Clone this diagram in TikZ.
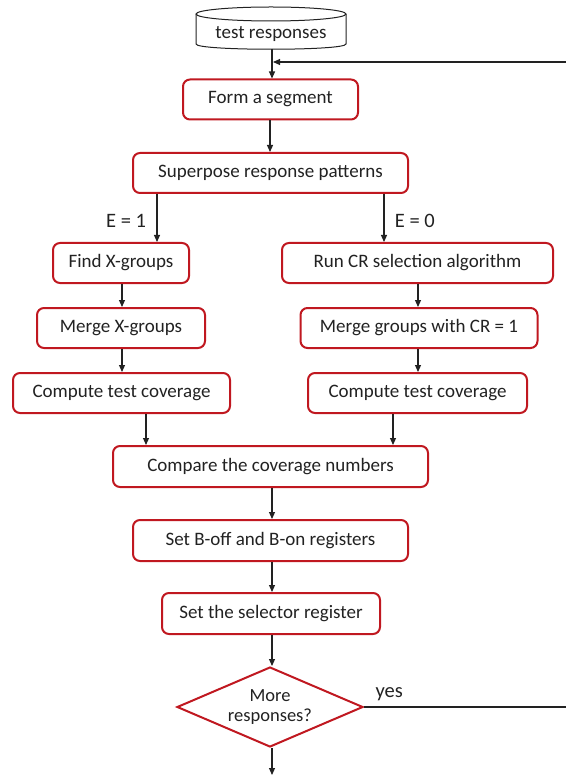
\documentclass[tikz,border=0pt]{standalone}
\usepackage{fontspec}
\setmainfont{Carlito}
\usetikzlibrary{arrows.meta,shapes.geometric}
\definecolor{boxred}{RGB}{192,24,32}
\definecolor{ink}{RGB}{34,34,34}
\begin{document}
\begin{tikzpicture}[x=1pt,y=-1pt,
  every node/.style={font=\fontsize{19}{22}\selectfont, text=ink},
  stepbox/.style={draw=boxred, line width=2pt, rounded corners=7pt, fill=white,
    minimum height=40pt, inner sep=0pt, anchor=center},
  decision/.style={diamond, draw=boxred, line width=2pt, fill=white, aspect=2.325,
    minimum width=186pt, minimum height=80pt, inner sep=0pt, align=center,
    font=\fontsize{18.5}{19.5}\selectfont},
  edgelabel/.style={font=\fontsize{20.5}{22}\selectfont},
  arr/.style={draw=ink, line width=1.1pt, -{Triangle[length=7pt,width=6pt]}},
  lin/.style={draw=ink, line width=1.1pt}
]
\useasboundingbox (0,0) rectangle (565,775);

% storage cylinder holding the test responses
\draw[ink, line width=1pt, fill=white]
  (196,14) -- (196,44) .. controls (196,51) and (346,51) .. (346,44) -- (346,14);
\draw[ink, line width=1pt, fill=white] (271,14) ellipse [x radius=75, y radius=7];
\node (tr) at (271,34) {test responses};
\coordinate (trb) at (272,49);

% process steps
\node[stepbox, minimum width=175pt] (seg) at (270.5,99.5) {Form a segment};
\node[stepbox, minimum width=275pt] (sup) at (270.5,173) {Superpose response patterns};
\node[stepbox, minimum width=136pt] (fx)  at (121,263) {Find X-groups};
\node[stepbox, minimum width=271pt] (run) at (417.5,263) {Run CR selection algorithm};
\node[stepbox, minimum width=168pt] (mx)  at (121,328) {Merge X-groups};
\node[stepbox, minimum width=237pt] (mcr) at (419,328) {Merge groups with CR = 1};
\node[stepbox, minimum width=217pt] (ctl) at (121.5,393) {Compute test coverage};
\node[stepbox, minimum width=219pt] (ctr) at (417.5,393) {Compute test coverage};
\node[stepbox, minimum width=315pt, minimum height=41pt] (cmp) at (270.5,466.5) {Compare the coverage numbers};
\node[stepbox, minimum width=275pt, minimum height=41pt] (bof) at (270.5,540.5) {Set B-off and B-on registers};
\node[stepbox, minimum width=218pt, minimum height=41pt] (sel) at (271,613.5) {Set the selector register};
\node[decision] (more) at (270,707) {More\\responses?};

% connector positions
\coordinate (segx) at (270,0);
\coordinate (lx) at (157,0);
\coordinate (rx) at (384,0);
\coordinate (lcol) at (122,0);
\coordinate (rcol) at (418,0);
\coordinate (clx) at (146,0);
\coordinate (crx) at (393,0);
\coordinate (mid) at (272,0);
\coordinate (loopR) at (566,62);
\coordinate (loopL) at (273,62);
\coordinate (yesR) at (566,707);
\coordinate (outB) at (272,775);

% connectors
\draw[arr] (trb) -- (seg.north -| trb);
\draw[arr] (loopR) -- (loopL);
\draw[arr] (seg.south -| segx) -- (sup.north -| segx);
\draw[arr] (sup.south -| lx) -- (fx.north -| lx)
  node[edgelabel, midway, anchor=east, xshift=-7pt, yshift=-3pt] {E = 1};
\draw[arr] (sup.south -| rx) -- (run.north -| rx)
  node[edgelabel, midway, anchor=west, xshift=7pt, yshift=-3pt] {E = 0};
\draw[arr] (fx.south -| lcol) -- (mx.north -| lcol);
\draw[arr] (run.south -| rcol) -- (mcr.north -| rcol);
\draw[arr] (mx.south -| lcol) -- (ctl.north -| lcol);
\draw[arr] (mcr.south -| rcol) -- (ctr.north -| rcol);
\draw[arr] (ctl.south -| clx) -- (cmp.north -| clx);
\draw[arr] (ctr.south -| crx) -- (cmp.north -| crx);
\draw[arr] (cmp.south -| mid) -- (bof.north -| mid);
\draw[arr] (bof.south -| mid) -- (sel.north -| mid);
\draw[arr] (sel.south -| mid) -- (more.north -| mid);
\draw[lin] (more.east) -- (yesR);
\node[edgelabel, anchor=base west] (yes) at (372,697) {yes};
\draw[arr] (more.south -| mid) -- (outB);
\end{tikzpicture}
\end{document}
